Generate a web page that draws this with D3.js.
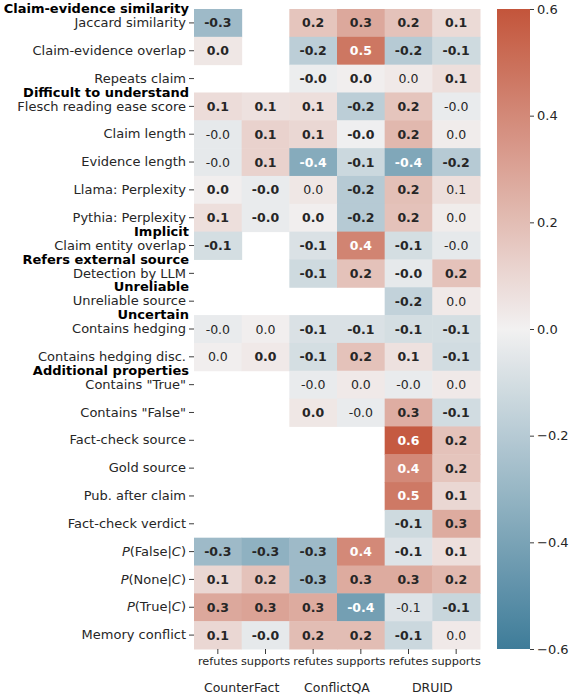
<!DOCTYPE html>
<html>
<head>
<meta charset="utf-8">
<script src="https://cdn.jsdelivr.net/npm/d3@7"></script>
<style>
  body { margin: 0; background: #fff; }
  text { font-family: "DejaVu Sans", sans-serif; }
</style>
</head>
<body>
<div id="chart"></div>
<script>
// columns of the heatmap
var datasets = ["CounterFact", "ConflictQA", "DRUID"];
var stances = ["refutes", "supports"];

var rowLabels = ["Jaccard similarity", "Claim-evidence overlap", "Repeats claim",
  "Flesch reading ease score", "Claim length", "Evidence length",
  "Llama: Perplexity", "Pythia: Perplexity", "Claim entity overlap",
  "Detection by LLM", "Unreliable source", "Contains hedging",
  "Contains hedging disc.", "Contains \"True\"", "Contains \"False\"",
  "Fact-check source", "Gold source", "Pub. after claim", "Fact-check verdict",
  "P(False|C)", "P(None|C)", "P(True|C)", "Memory conflict"];

// group headers: row index where the group starts
var groupNames = ["Claim-evidence similarity", "Difficult to understand", "Implicit",
  "Refers external source", "Unreliable", "Uncertain", "Additional properties"];
var groupStart = [0, 3, 8, 9, 10, 11, 13];

// correlation values (null = not available)
var values = [
  [-0.28, null, 0.17, 0.28, 0.18, 0.09],
  [0.04, null, -0.18, 0.47, -0.2, -0.12],
  [null, null, -0.02, 0.01, 0.03, 0.07],
  [0.08, 0.06, 0.07, -0.18, 0.17, -0.03],
  [-0.04, 0.12, 0.1, -0.01, 0.22, 0.02],
  [-0.04, 0.12, -0.36, -0.13, -0.38, -0.2],
  [0.01, -0.03, 0.04, -0.2, 0.19, 0.07],
  [0.07, -0.03, 0.01, -0.2, 0.18, 0.02],
  [-0.1, null, -0.08, 0.42, -0.1, -0.04],
  [null, null, -0.12, 0.18, -0.04, 0.18],
  [null, null, null, null, -0.16, 0.03],
  [-0.03, 0.01, -0.08, -0.08, -0.1, -0.1],
  [0.01, 0.03, -0.1, 0.18, 0.06, -0.11],
  [null, null, -0.03, 0.03, -0.03, 0.03],
  [null, null, 0.04, -0.03, 0.26, -0.11],
  [null, null, null, null, 0.58, 0.18],
  [null, null, null, null, 0.4, 0.17],
  [null, null, null, null, 0.46, 0.1],
  [null, null, null, null, -0.12, 0.27],
  [-0.28, -0.33, -0.28, 0.4, -0.07, 0.07],
  [0.1, 0.18, -0.28, 0.27, 0.27, 0.22],
  [0.28, 0.3, 0.27, -0.42, -0.07, -0.14],
  [0.1, -0.04, 0.2, 0.2, -0.13, 0.03]
];

// significant (bold) annotations
var significant = [
  [1, 0, 1, 1, 1, 1],
  [1, 0, 1, 1, 1, 1],
  [0, 0, 1, 1, 0, 1],
  [1, 1, 1, 1, 1, 0],
  [0, 1, 1, 1, 1, 0],
  [0, 1, 1, 1, 1, 1],
  [1, 1, 0, 1, 1, 0],
  [1, 1, 1, 1, 1, 0],
  [1, 0, 1, 1, 1, 0],
  [0, 0, 1, 1, 1, 1],
  [0, 0, 0, 0, 1, 0],
  [0, 0, 1, 1, 1, 1],
  [0, 1, 1, 1, 1, 1],
  [0, 0, 0, 0, 0, 0],
  [0, 0, 1, 0, 1, 1],
  [0, 0, 0, 0, 1, 1],
  [0, 0, 0, 0, 1, 1],
  [0, 0, 0, 0, 1, 1],
  [0, 0, 0, 0, 1, 1],
  [1, 1, 1, 1, 1, 1],
  [1, 1, 1, 1, 1, 1],
  [1, 1, 1, 1, 0, 1],
  [1, 1, 1, 1, 1, 0]
];

var cbTicks = [-0.6, -0.4, -0.2, 0.0, 0.2, 0.4, 0.6];

var W = 571, H = 698;
var mLeft = 194, mTop = 9, hmRight = 480, hmBottom = 649;

var svg = d3.select("#chart").append("svg")
  .attr("width", W).attr("height", H);

var columns = [];
datasets.forEach(function (d) {
  stances.forEach(function (s) { columns.push(d + "|" + s); });
});

var x = d3.scaleBand().domain(columns).range([mLeft, hmRight]);
var y = d3.scaleBand().domain(d3.range(rowLabels.length)).range([mTop, hmBottom]);

var color = d3.scaleLinear()
  .domain([-0.6, 0, 0.6])
  .range(["#3e7c99", "#f2f1f1", "#c3553b"])
  .interpolate(d3.interpolateRgb)
  .clamp(true);

function luminance(c) {
  var rgb = d3.rgb(c);
  var v = [rgb.r, rgb.g, rgb.b].map(function (u) {
    u = u / 255;
    return u <= 0.03928 ? u / 12.92 : Math.pow((u + 0.055) / 1.055, 2.4);
  });
  return 0.2126 * v[0] + 0.7152 * v[1] + 0.0722 * v[2];
}

var cells = [];
values.forEach(function (row, i) {
  row.forEach(function (v, j) {
    if (v !== null) cells.push({ row: i, col: columns[j], v: v, bold: significant[i][j] });
  });
});

var g = svg.append("g");

g.selectAll("rect.cell").data(cells).enter().append("rect")
  .attr("class", "cell")
  .attr("x", function (d) { return x(d.col); })
  .attr("y", function (d) { return y(d.row); })
  .attr("width", x.bandwidth() + 0.5)
  .attr("height", y.bandwidth() + 0.5)
  .attr("fill", function (d) { return color(d.v); });

g.selectAll("text.annot").data(cells).enter().append("text")
  .attr("class", "annot")
  .attr("x", function (d) { return x(d.col) + x.bandwidth() / 2; })
  .attr("y", function (d) { return y(d.row) + y.bandwidth() / 2; })
  .attr("dy", "0.36em")
  .attr("text-anchor", "middle")
  .style("font-size", "12.5px")
  .style("font-weight", function (d) { return d.bold ? "bold" : "normal"; })
  .attr("fill", function (d) { return luminance(color(d.v)) > 0.408 ? "#262626" : "#ffffff"; })
  .text(function (d) { return d.v.toFixed(1); });

// y axis
var yAxis = g.append("g")
  .attr("transform", "translate(" + mLeft + ",0)")
  .call(d3.axisLeft(y).tickSize(5).tickPadding(3).tickFormat(function () { return ""; }));
yAxis.select(".domain").remove();
yAxis.selectAll("line").attr("stroke", "#262626").attr("stroke-width", 0.9);

yAxis.selectAll(".tick text")
  .style("font-size", "13px")
  .attr("fill", "#262626")
  .each(function (i) {
    var t = d3.select(this);
    var lab = rowLabels[i];
    var m = lab.match(/^P\((\w+)\|C\)$/);
    if (m) {
      t.append("tspan").style("font-style", "italic").text("P");
      t.append("tspan").text("(" + m[1] + "|");
      t.append("tspan").style("font-style", "italic").text("C");
      t.append("tspan").text(")");
    } else {
      t.text(lab);
    }
  });

// group headers
g.selectAll("text.group").data(groupNames).enter().append("text")
  .attr("class", "group")
  .attr("x", 189)
  .attr("y", function (d, i) { return y(groupStart[i]); })
  .attr("dy", "0.32em")
  .attr("text-anchor", "end")
  .style("font-size", "13px")
  .style("font-weight", "bold")
  .attr("fill", "#000")
  .text(function (d) { return d; });

// x axis
var xAxis = g.append("g")
  .attr("transform", "translate(0," + hmBottom + ")")
  .call(d3.axisBottom(x).tickSize(5).tickPadding(3).tickFormat(function (d) { return d.split("|")[1]; }));
xAxis.select(".domain").remove();
xAxis.selectAll("line").attr("stroke", "#262626").attr("stroke-width", 0.9);
xAxis.selectAll("text").style("font-size", "11.3px").attr("fill", "#262626");

g.selectAll("text.dataset").data(datasets).enter().append("text")
  .attr("class", "dataset")
  .attr("x", function (d) { return (x(d + "|refutes") + x(d + "|supports") + x.bandwidth()) / 2; })
  .attr("y", 692)
  .attr("text-anchor", "middle")
  .style("font-size", "12.5px")
  .attr("fill", "#262626")
  .text(function (d) { return d; });

// colorbar
var cbX = 497, cbW = 33;
var cy = d3.scaleLinear().domain([-0.6, 0.6]).range([hmBottom, mTop]);
var defs = svg.append("defs");
var grad = defs.append("linearGradient").attr("id", "cbgrad")
  .attr("x1", 0).attr("y1", 1).attr("x2", 0).attr("y2", 0);
d3.range(0, 1.0001, 0.05).forEach(function (t) {
  grad.append("stop").attr("offset", t).attr("stop-color", color(-0.6 + 1.2 * t));
});
svg.append("rect")
  .attr("x", cbX).attr("y", mTop)
  .attr("width", cbW).attr("height", hmBottom - mTop)
  .attr("fill", "url(#cbgrad)");

var cbAxis = svg.append("g")
  .attr("transform", "translate(" + (cbX + cbW) + ",0)")
  .call(d3.axisRight(cy).tickValues(cbTicks).tickSize(4).tickPadding(3).tickFormat(d3.format(".1f")));
cbAxis.select(".domain").remove();
cbAxis.selectAll("line").attr("stroke", "#262626").attr("stroke-width", 0.9);
cbAxis.selectAll("text").style("font-size", "13px").attr("fill", "#262626");
</script>
</body>
</html>
